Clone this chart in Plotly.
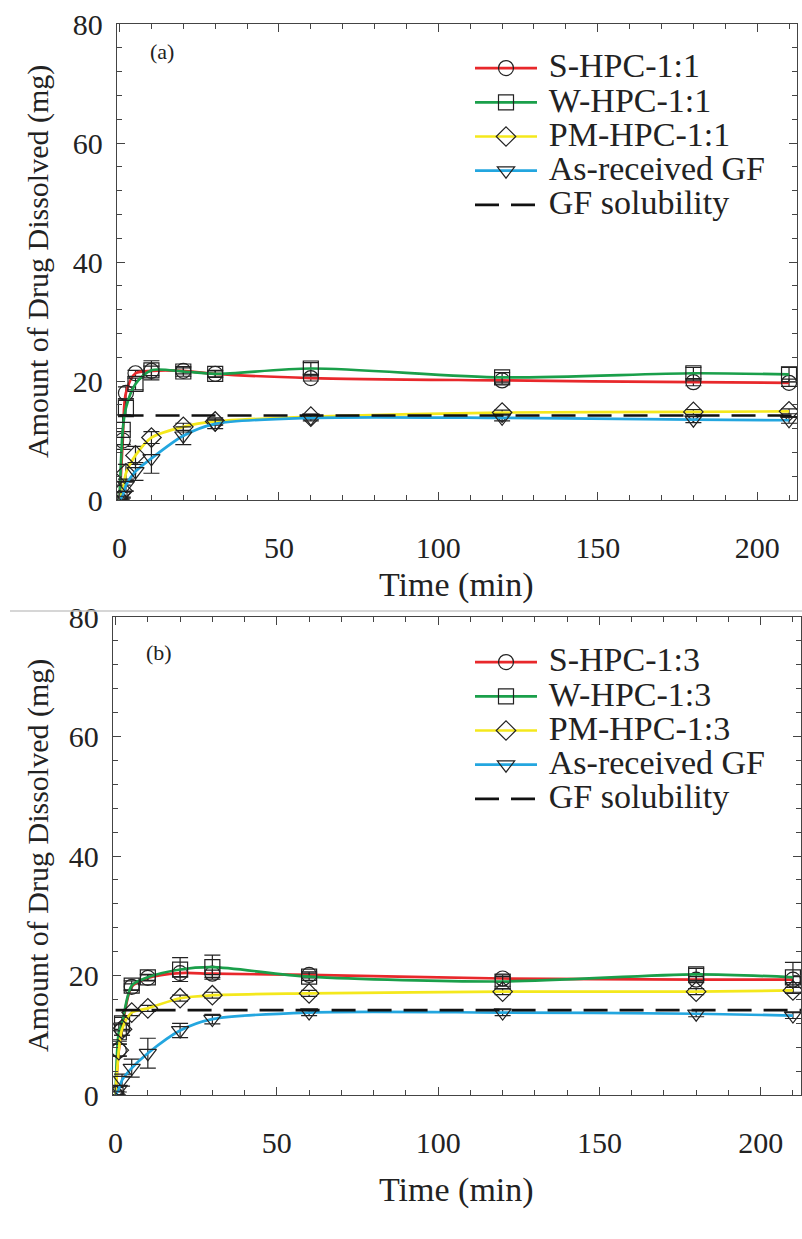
import plotly.graph_objects as go

# ---------------- data ----------------
time_min = [0, 1, 2, 5, 10, 20, 30, 60, 120, 180, 210]
gf_solubility = 14.2
x_range = [-0.8, 212.5]
y_range = [0, 80]
x_ticks = [0, 50, 100, 150, 200]
y_ticks = [0, 20, 40, 60, 80]

# panel (a) 1:1
names_a = ["S-HPC-1:1", "W-HPC-1:1", "PM-HPC-1:1", "As-received GF"]
s_a = [0, 10.0, 18.0, 21.3, 21.7, 21.7, 21.2, 20.5, 20.1, 19.8, 19.7]
w_a = [0, 11.8, 15.5, 19.5, 21.8, 21.6, 21.2, 22.1, 20.6, 21.3, 21.1]
pm_a = [0, 1.5, 4.5, 7.5, 10.5, 12.3, 13.2, 14.0, 14.7, 14.8, 14.9]
as_a = [0, 0.8, 2.5, 4.8, 7.0, 10.8, 12.8, 13.8, 13.8, 13.5, 13.4]
s_a_err = [0, 1.5, 1.0, 0.5, 0.8, 0.5, 0.5, 0.5, 0.6, 0.6, 0.6]
w_a_err = [0, 2.5, 1.5, 1.0, 1.6, 0.8, 0.6, 1.0, 0.8, 1.0, 1.2]
pm_a_err = [0, 1.0, 1.5, 1.5, 1.0, 0.6, 0.6, 0.4, 0.4, 0.4, 0.4]
as_a_err = [0, 0.5, 1.0, 1.5, 2.5, 1.5, 0.8, 0.5, 0.5, 0.5, 0.5]

# panel (b) 1:3
names_b = ["S-HPC-1:3", "W-HPC-1:3", "PM-HPC-1:3", "As-received GF"]
s_b = [0, 7.5, 11.0, 18.1, 19.6, 20.4, 20.3, 20.1, 19.5, 19.3, 19.3]
w_b = [0, 10.5, 12.0, 18.3, 19.7, 21.0, 21.4, 19.8, 19.0, 20.2, 19.7]
pm_b = [0, 7.5, 11.0, 13.8, 14.5, 16.2, 16.7, 17.0, 17.3, 17.3, 17.5]
as_b = [0, 1.0, 2.5, 4.5, 7.0, 10.8, 12.7, 13.8, 13.8, 13.6, 13.3]
s_b_err = [0, 1.0, 1.0, 0.5, 0.5, 0.6, 0.6, 0.5, 0.6, 0.5, 0.5]
w_b_err = [0, 1.5, 1.0, 0.8, 0.5, 2.0, 2.0, 0.6, 0.8, 1.0, 2.5]
pm_b_err = [0, 1.0, 1.0, 0.5, 0.5, 0.5, 0.5, 0.5, 0.5, 0.5, 0.5]
as_b_err = [0, 0.5, 1.0, 1.5, 2.5, 1.2, 0.8, 0.5, 0.5, 0.5, 0.5]

solubility_name = "GF solubility"
x_title = "Time (min)"
y_title = "Amount of Drug Dissolved (mg)"

# ---------------- style ----------------
W, H = 802, 1239
FONT = "Liberation Serif, Times New Roman, serif"
TXT = "#222"
colors = ["#e8282b", "#1a9f4a", "#f4e81c", "#23a6df"]
symbols = ["circle-open", "square-open", "diamond-open", "triangle-down-open"]
LEGEND_TEXT_PX = 34


def px(x):
    return x / W


def py(y):
    return 1 - y / H


def legend_label(name):
    return f'<span style="font-size:{LEGEND_TEXT_PX}px">\u2009{name}</span>'


fig = go.Figure()


def add_panel(series, errs, names, xa, ya, legend):
    for i, (vals, err, name) in enumerate(zip(series, errs, names)):
        fig.add_trace(go.Scatter(
            x=time_min, y=vals, name=legend_label(name), mode="lines+markers",
            xaxis=xa, yaxis=ya, legend=legend,
            line=dict(color=colors[i], width=2.7, shape="spline", smoothing=0.8),
            marker=dict(symbol=symbols[i], size=15, color=TXT,
                        line=dict(color=TXT, width=1.2)),
            error_y=dict(type="data", array=err, color=TXT, thickness=1.2, width=8),
        ))
    fig.add_trace(go.Scatter(
        x=[time_min[0], x_range[1]], y=[gf_solubility, gf_solubility],
        name=legend_label(solubility_name), mode="lines", xaxis=xa, yaxis=ya,
        legend=legend,
        line=dict(color="#111", width=2.6, dash="24px,12px"),
    ))


add_panel([s_a, w_a, pm_a, as_a], [s_a_err, w_a_err, pm_a_err, as_a_err], names_a, "x", "y", "legend")
add_panel([s_b, w_b, pm_b, as_b], [s_b_err, w_b_err, pm_b_err, as_b_err], names_b, "x2", "y2", "legend2")

axis_common = dict(
    showline=True, linecolor="#444", linewidth=1.3, mirror="ticks",
    ticks="inside", ticklen=8, tickcolor="#444", tickwidth=1.2,
    showgrid=False, zeroline=False, automargin=False,
    tickfont=dict(family=FONT, size=30, color=TXT),
)
xcommon = dict(axis_common, range=x_range, tickvals=x_ticks, ticklabelstandoff=21,
               minor=dict(dtick=10, tick0=0, ticks="inside", ticklen=5, tickcolor="#444"))
ycommon = dict(axis_common, range=y_range, tickvals=y_ticks, ticklabelstandoff=7,
               minor=dict(dtick=4, tick0=0, ticks="inside", ticklen=5, tickcolor="#444"))

legend_common = dict(
    font=dict(family=FONT, size=24, color=TXT), bgcolor="rgba(0,0,0,0)",
    itemwidth=62, xanchor="left", yanchor="top",
)


def title_annots(xc, yc_x, yc, yx):
    return [
        dict(text=x_title, x=px(xc), y=py(yc_x), xref="paper", yref="paper",
             xanchor="center", yanchor="middle", showarrow=False,
             font=dict(family=FONT, size=34, color=TXT)),
        dict(text=y_title, x=px(yx), y=py(yc), xref="paper", yref="paper",
             xanchor="center", yanchor="middle", showarrow=False, textangle=-90,
             font=dict(family=FONT, size=30, color=TXT)),
    ]


annots = []
annots += title_annots(456, 585, 262, 38)
annots += title_annots(456, 1190, 856, 38)
annots += [
    dict(text="(a)", x=px(148), y=py(52), xref="paper", yref="paper",
         xanchor="left", yanchor="middle", showarrow=False,
         font=dict(family=FONT, size=22, color=TXT)),
    dict(text="(b)", x=px(144), y=py(652), xref="paper", yref="paper",
         xanchor="left", yanchor="middle", showarrow=False,
         font=dict(family=FONT, size=22, color=TXT)),
]

fig.update_layout(
    width=W, height=H, margin=dict(l=0, r=0, t=0, b=0, autoexpand=False),
    paper_bgcolor="white", plot_bgcolor="white",
    xaxis=dict(xcommon, domain=[px(117), px(797)], anchor="y"),
    yaxis=dict(ycommon, domain=[py(500), py(24)], anchor="x"),
    xaxis2=dict(xcommon, domain=[px(113), px(801)], anchor="y2"),
    yaxis2=dict(ycommon, domain=[py(1095), py(617)], anchor="x2"),
    legend=dict(legend_common, x=px(470), y=py(46)),
    legend2=dict(legend_common, x=px(470), y=py(640)),
    annotations=annots,
    shapes=[dict(type="line", xref="paper", yref="paper", x0=px(10), x1=1,
                 y0=py(611), y1=py(611), line=dict(color="#c8c8c8", width=1.5))],
    showlegend=True,
)

fig.write_html(
    "out.html",
    config={"displayModeBar": False},
    post_script="document.body.style.margin='0px';document.body.style.overflow='hidden';",
)
